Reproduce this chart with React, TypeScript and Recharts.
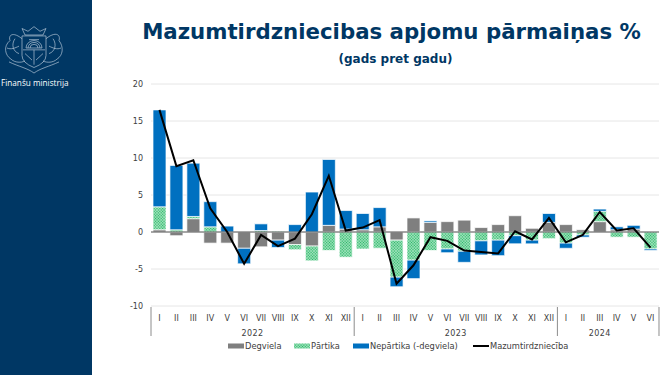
import { ComposedChart, Bar, Line, XAxis, YAxis, CartesianGrid, ReferenceLine } from "recharts";

const months = ["I", "II", "III", "IV", "V", "VI", "VII", "VIII", "IX", "X", "XI", "XII", "I", "II", "III", "IV", "V", "VI", "VII", "VIII", "IX", "X", "XI", "XII", "I", "II", "III", "IV", "V", "VI"];
const years = [2022, 2022, 2022, 2022, 2022, 2022, 2022, 2022, 2022, 2022, 2022, 2022, 2023, 2023, 2023, 2023, 2023, 2023, 2023, 2023, 2023, 2023, 2023, 2023, 2024, 2024, 2024, 2024, 2024, 2024];
const yearTicks = ["2022", "2023", "2024"];
const yearLabelIndex = [5, 17, 26];
const yTicks = [-10, -5, 0, 5, 10, 15, 20];

const fuel = [0.3, -0.5, 1.8, -1.5, -1.5, -2.2, -2.0, -1.1, -1.7, -1.9, 0.9, 0.4, 0.3, 0.7, -1.1, 1.9, 1.3, 1.4, 1.6, 0.6, 1.0, 2.2, 0.5, 1.3, 1.0, 0.3, 1.4, 0.3, 0.4, 0];
const food = [3.1, 0.3, 0.3, 0.7, 0, 0, 0.2, 0.1, -0.7, -2.0, -2.5, -3.4, -2.3, -2.2, -5.0, -3.8, -2.5, -2.3, -2.6, -1.2, -1.1, -0.5, -1.1, -0.9, -1.5, -0.4, 1.4, -0.7, -0.7, -2.3];
const nonFood = [13.1, 8.7, 7.2, 3.4, 0.8, -2.1, 0.9, -1.0, 1.0, 5.4, 8.9, 2.5, 2.2, 2.6, -1.3, -2.5, 0.2, -0.5, -1.5, -1.9, -2.1, -1.1, -0.5, 1.2, -0.7, -0.3, 0.3, 0.4, 0.5, -0.2];
const retail = [16.5, 8.9, 9.7, 3.2, 0, -4.3, -0.4, -1.9, -0.9, 2.4, 7.6, 0.2, 0.6, 1.6, -7.0, -4.5, -0.7, -1.2, -2.5, -2.7, -2.9, 0.1, -1.0, 1.9, -1.4, -0.4, 2.7, 0.2, 0.5, -2.1];

const chartData = months.map((m, i) => ({
  key: i,
  month: m,
  year: years[i],
  fuel: fuel[i],
  food: food[i],
  nonFood: nonFood[i],
  retail: retail[i],
}));

const NAVY = "#003764";
const BLUE = "#0070c0";
const GREY = "#7f7f7f";
const GREEN = "#25b566";
const FONT = "'DejaVu Sans', Verdana, sans-serif";

function MonthTick({ x, y, payload, index }: any) {
  const step = 16.93;
  const i = payload?.value ?? index;
  const startsYear = i === 0 || years[i] !== years[i - 1];
  const last = i === months.length - 1;
  const yearPos = yearLabelIndex.indexOf(i);
  return (
    <g>
      <text x={x} y={y + 7} textAnchor="middle" fontSize={8} fill="#404040" fontFamily={FONT}>
        {months[i]}
      </text>
      {startsYear && <line x1={x - step / 2} x2={x - step / 2} y1={y - 7} y2={y + 22} stroke="#8c8c8c" />}
      {last && <line x1={x + step / 2} x2={x + step / 2} y1={y - 7} y2={y + 22} stroke="#8c8c8c" />}
      {yearPos >= 0 && (
        <text x={x + (i === 26 ? 0 : step / 2)} y={y + 22} textAnchor="middle" fontSize={8} fill="#404040" fontFamily={FONT} letterSpacing={0.4}>
          {yearTicks[yearPos]}
        </text>
      )}
    </g>
  );
}

function LegendItem({ left, textLeft, label, fill, thin }: any) {
  return (
    <>
      <svg width={16} height={6} style={{ position: "absolute", left, top: 343 }}>
        {thin ? <rect width={16} height={2} y={2} fill={fill} /> : <rect width={16} height={5} y={0.5} fill={fill} />}
      </svg>
      <span style={{ position: "absolute", left: textLeft, top: 341, fontSize: 8.3, lineHeight: "11px", color: "#404040", fontFamily: FONT, whiteSpace: "nowrap" }}>
        {label}
      </span>
    </>
  );
}

function Crest() {
  return (
    <svg width={66} height={52} viewBox="0 0 66 56" preserveAspectRatio="none" fill="none" stroke="#b9c9da" strokeWidth={0.7}>
      <path d="M24 14 L21 7 L27 10 L33 5 L39 10 L45 7 L42 14 Z" />
      <path d="M21 15 H45 V36 Q45 44 33 49 Q21 44 21 36 Z" />
      <path d="M25 28 A8 8 0 0 1 41 28 Z M27 28 A6 6 0 0 1 39 28 M29 28 A4 4 0 0 1 37 28" />
      <path d="M22 30 H44 M33 30 V46 M28 19 H38 M24 34 L31 41 M42 34 L35 41" />
      <path d="M21 18 C12 10 7 14 9 20 C2 26 4 36 10 40 C14 44 20 44 24 42 M14 18 C10 24 12 32 18 34 M6 28 C10 30 14 28 18 26" />
      <path d="M45 18 C54 10 60 13 58 20 C63 27 62 36 56 40 C52 44 46 44 42 42 M52 18 C56 24 54 32 48 34 M60 28 C56 30 52 28 48 26" />
      <path d="M8 43 C18 48 27 50 33 55 C39 50 48 48 58 43" />
    </svg>
  );
}

export default function App() {
  return (
    <div style={{ position: "absolute", left: 0, top: 0, width: 665, height: 375, background: "#fff", overflow: "hidden" }}>
      <div style={{ position: "absolute", left: 0, top: 0, width: 92, height: 375, background: NAVY }}>
        <div style={{ position: "absolute", left: 1, top: 22 }}><Crest /></div>
        <div style={{ position: "absolute", left: 1, top: 77, fontSize: 8.2, color: "#fff", fontFamily: "'Open Sans', sans-serif", whiteSpace: "nowrap" }}>
          Finanšu ministrija
        </div>
      </div>
      <div style={{ position: "absolute", left: 118, right: 0, top: 19, textAlign: "center", fontFamily: FONT, fontWeight: 700, fontSize: 21.3, color: NAVY, whiteSpace: "nowrap" }}>
        Mazumtirdzniecibas apjomu pārmaiņas %
      </div>
      <div style={{ position: "absolute", left: 126, right: 0, top: 52, textAlign: "center", fontFamily: FONT, fontWeight: 700, fontSize: 12, color: NAVY }}>
        (gads pret gadu)
      </div>
      <div style={{ position: "absolute", left: 0, top: 0 }}>
        <ComposedChart
          width={665}
          height={375}
          data={chartData}
          stackOffset="sign"
          barSize={13}
          margin={{ top: 84, right: 6, left: 121, bottom: 39 }}
        >
          <defs>
            <pattern id="foodHatch" width={2} height={2} patternUnits="userSpaceOnUse" patternTransform="rotate(45)">
              <rect width={2} height={2} fill="#c4f0d4" />
              <rect width={1.4} height={1.4} fill={GREEN} />
            </pattern>
          </defs>
          <CartesianGrid vertical={false} stroke="#e6e6e6" />
          <XAxis dataKey="key" type="category" interval={0} axisLine={false} tickLine={false} height={30} tick={<MonthTick />} />
          <YAxis domain={[-10, 20]} ticks={yTicks} width={30} axisLine={false} tickLine={false} tick={{ fontSize: 8, fill: "#404040", fontFamily: FONT }} />
          <Bar dataKey="fuel" stackId="a" fill={GREY} stroke="#fff" strokeWidth={0.7} isAnimationActive={false} />
          <Bar dataKey="food" stackId="a" fill="url(#foodHatch)" stroke="#fff" strokeWidth={0.7} isAnimationActive={false} />
          <Bar dataKey="nonFood" stackId="a" fill={BLUE} stroke="#fff" strokeWidth={0.7} isAnimationActive={false} />
          <ReferenceLine y={0} stroke="#595959" strokeWidth={1} />
          <Line dataKey="retail" type="linear" stroke="#000" strokeWidth={2} dot={false} isAnimationActive={false} />
        </ComposedChart>
      </div>
      <LegendItem left={228} textLeft={245} label="Degviela" fill={GREY} />
      <LegendItem left={294} textLeft={311} label="Pārtika" fill="url(#foodHatch)" />
      <LegendItem left={353} textLeft={370} label="Nepārtika (-degviela)" fill={BLUE} />
      <LegendItem left={473} textLeft={490} label="Mazumtirdzniecība" fill="#000" thin />
    </div>
  );
}
